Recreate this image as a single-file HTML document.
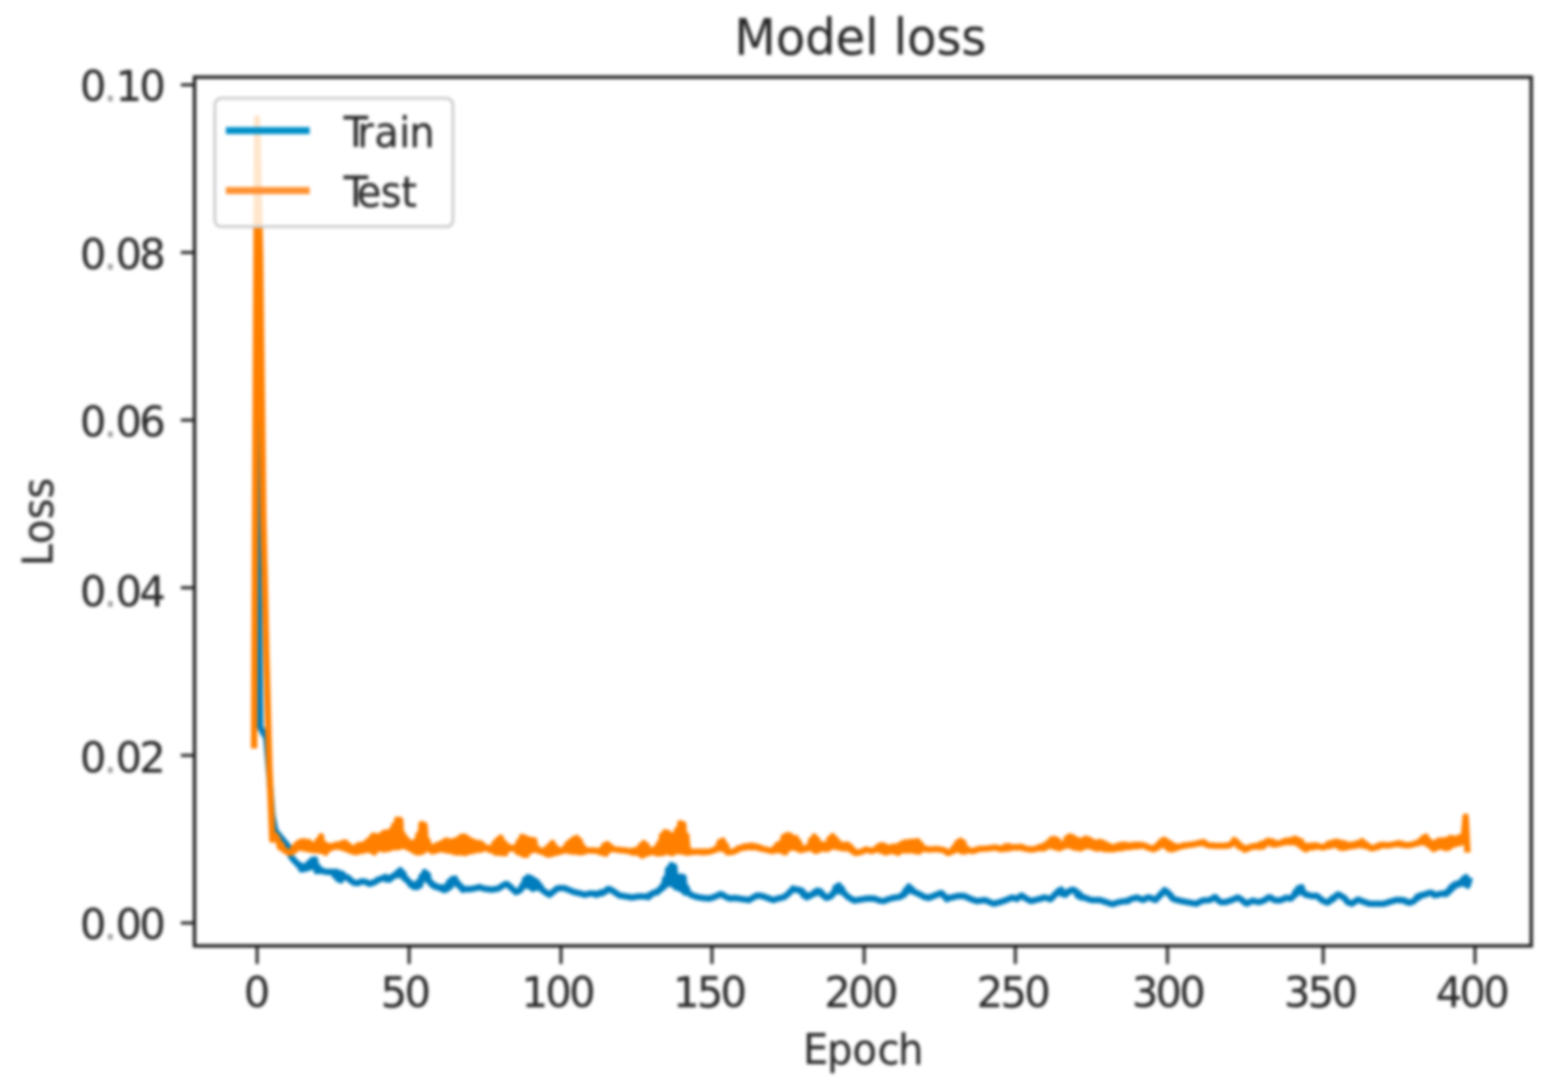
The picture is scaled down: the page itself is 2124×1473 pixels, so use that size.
<!DOCTYPE html>
<html lang="en"><head><meta charset="utf-8"><title>Model loss</title>
<style>html,body{margin:0;padding:0;background:#fff;overflow:hidden}svg{display:block}text{font-family:"DejaVu Sans","Liberation Sans",sans-serif;fill:#282828;stroke:#282828;stroke-width:0.25;font-kerning:none}</style></head><body>
<svg width="2124" height="1473" viewBox="0 0 2124 1473">
<defs><filter id="b" x="0" y="0" width="2124" height="1473" filterUnits="userSpaceOnUse" color-interpolation-filters="sRGB"><feGaussianBlur stdDeviation="2.2"/></filter>
<filter id="c" x="0" y="0" width="2124" height="1473" filterUnits="userSpaceOnUse" color-interpolation-filters="sRGB"><feGaussianBlur stdDeviation="2.2"/></filter>
<clipPath id="ax"><rect x="263.5" y="104.6" width="1810.7" height="1177.2"/></clipPath></defs>
<rect width="2124" height="1473" fill="#fff"/>
<g filter="url(#c)"><g clip-path="url(#ax)" fill="none" stroke-linejoin="round" stroke-linecap="square">
<polyline stroke="#007dbd" stroke-width="8.6" points="347.2,570.0 348.3,625.0 352.4,985.0 356.6,993.0 360.7,1000.0 364.8,1050.0 368.9,1105.0 373.1,1126.0 377.2,1131.0 381.3,1136.0 385.4,1141.0 389.6,1146.0 393.7,1160.0 397.8,1165.4 399.9,1167.4 401.9,1169.3 404.0,1172.0 406.1,1172.0 408.1,1178.3 410.2,1174.3 412.3,1177.8 414.3,1173.4 416.4,1176.6 418.4,1169.3 420.5,1175.3 422.6,1165.4 424.6,1172.3 426.7,1164.6 428.8,1180.5 430.8,1174.5 432.9,1180.3 434.9,1179.0 437.0,1180.5 439.1,1180.7 441.1,1181.3 443.2,1181.5 445.3,1181.8 447.3,1181.4 449.4,1181.8 451.4,1181.5 453.5,1186.7 455.6,1181.3 457.6,1191.1 459.7,1183.0 461.8,1193.1 463.8,1184.2 465.9,1189.0 467.9,1187.8 470.0,1189.6 472.1,1189.6 474.1,1192.5 476.2,1193.6 478.3,1195.8 480.3,1196.1 482.4,1196.8 484.4,1196.7 486.5,1195.9 488.6,1194.7 490.6,1194.4 492.7,1194.7 494.8,1194.9 496.8,1195.8 498.9,1196.8 500.9,1197.8 503.0,1197.0 505.1,1196.0 507.1,1195.7 509.2,1194.0 511.3,1193.0 513.3,1191.5 515.4,1191.1 517.4,1190.2 519.5,1190.3 521.6,1188.2 523.6,1191.9 525.7,1189.6 527.8,1192.0 529.8,1188.8 531.9,1188.5 533.9,1186.1 536.0,1186.5 538.1,1182.7 540.1,1185.5 542.2,1179.2 544.3,1187.0 546.3,1183.4 548.4,1190.7 550.4,1190.5 552.5,1194.2 554.6,1195.1 556.6,1199.6 558.7,1197.7 560.8,1201.9 562.8,1201.1 564.9,1202.1 566.9,1194.9 569.0,1200.0 571.1,1187.5 573.1,1192.1 575.2,1181.7 577.3,1190.5 579.3,1184.9 581.4,1195.3 583.4,1195.7 585.5,1199.4 587.6,1198.8 589.6,1201.8 591.7,1201.4 593.8,1202.8 595.8,1202.2 597.9,1204.6 599.9,1202.8 602.0,1206.3 604.1,1201.3 606.1,1204.5 608.2,1195.2 610.3,1201.4 612.3,1191.2 614.4,1195.9 616.4,1190.5 618.5,1197.5 620.6,1197.1 622.6,1201.3 624.7,1201.4 626.8,1205.9 628.8,1204.9 630.9,1204.9 632.9,1204.9 635.0,1204.9 637.1,1204.9 639.1,1204.5 641.2,1204.1 643.3,1203.6 645.3,1203.2 647.4,1202.7 649.4,1202.1 651.5,1202.7 653.6,1203.5 655.6,1204.2 657.7,1204.5 659.8,1204.8 661.8,1205.1 663.9,1205.4 665.9,1205.5 668.0,1205.2 670.1,1204.9 672.1,1204.6 674.2,1204.3 676.2,1203.4 678.3,1202.0 680.4,1200.6 682.4,1199.2 684.5,1198.5 686.6,1197.9 688.6,1199.7 690.7,1201.4 692.7,1203.1 694.8,1205.2 696.9,1207.0 698.9,1209.0 701.0,1208.2 703.1,1207.2 705.1,1205.9 707.2,1200.5 709.2,1201.3 711.3,1191.5 713.4,1200.2 715.4,1188.6 717.5,1201.6 719.6,1190.2 721.6,1204.5 723.7,1192.7 725.7,1203.2 727.8,1195.5 729.9,1202.9 731.9,1200.9 734.0,1205.5 736.1,1206.9 738.1,1208.6 740.2,1209.8 742.2,1211.3 744.3,1212.5 746.4,1210.9 748.4,1209.1 750.5,1207.5 752.6,1205.8 754.6,1204.3 756.7,1203.5 758.7,1203.5 760.8,1203.5 762.9,1203.5 764.9,1203.6 767.0,1204.6 769.1,1205.4 771.1,1206.3 773.2,1207.1 775.2,1207.9 777.3,1208.9 779.4,1209.3 781.4,1209.7 783.5,1210.2 785.6,1210.6 787.6,1211.2 789.7,1211.8 791.7,1212.5 793.8,1212.2 795.9,1211.6 797.9,1211.0 800.0,1210.6 802.1,1210.9 804.1,1211.5 806.2,1211.0 808.2,1212.6 810.3,1210.8 812.4,1211.3 814.4,1209.2 816.5,1210.3 818.6,1208.4 820.6,1207.8 822.7,1205.1 824.7,1204.5 826.8,1205.4 828.9,1206.7 830.9,1207.8 833.0,1209.3 835.1,1210.7 837.1,1212.1 839.2,1213.4 841.2,1213.7 843.3,1214.1 845.4,1214.4 847.4,1214.8 849.5,1215.1 851.6,1215.4 853.6,1215.8 855.7,1216.2 857.7,1215.9 859.8,1215.6 861.9,1215.2 863.9,1214.8 866.0,1214.8 868.1,1214.8 870.1,1214.8 872.2,1214.8 874.2,1215.1 876.3,1214.6 878.4,1215.8 880.4,1212.4 882.5,1212.2 884.6,1210.1 886.6,1210.2 888.7,1208.5 890.7,1209.0 892.8,1206.0 894.9,1205.4 896.9,1201.2 899.0,1202.4 901.1,1190.7 903.1,1198.7 905.2,1177.5 907.2,1197.3 909.3,1172.4 911.4,1199.0 913.4,1174.3 915.5,1202.4 917.6,1188.5 919.6,1203.8 921.7,1187.7 923.7,1206.0 925.8,1188.6 927.9,1209.6 929.9,1202.7 932.0,1209.8 934.0,1210.8 936.1,1212.7 938.2,1213.5 940.2,1214.2 942.3,1214.9 944.4,1215.5 946.4,1215.9 948.5,1216.2 950.5,1216.6 952.6,1216.9 954.7,1217.1 956.7,1217.2 958.8,1217.4 960.9,1217.6 962.9,1217.0 965.0,1216.3 967.0,1215.6 969.1,1214.8 971.2,1214.0 973.2,1212.9 975.3,1211.8 977.4,1211.9 979.4,1213.0 981.5,1214.5 983.5,1215.4 985.6,1216.4 987.7,1217.5 989.7,1217.4 991.8,1217.3 993.9,1217.1 995.9,1216.9 998.0,1217.2 1000.0,1217.5 1002.1,1217.8 1004.2,1218.2 1006.2,1218.5 1008.3,1218.8 1010.4,1219.1 1012.4,1219.4 1014.5,1219.7 1016.5,1218.6 1018.6,1217.3 1020.7,1216.1 1022.7,1215.0 1024.8,1214.0 1026.9,1213.4 1028.9,1213.7 1031.0,1214.0 1033.0,1214.5 1035.1,1215.2 1037.2,1215.9 1039.2,1216.7 1041.3,1217.3 1043.4,1218.2 1045.4,1219.0 1047.5,1219.7 1049.5,1219.0 1051.6,1218.4 1053.7,1217.7 1055.7,1217.2 1057.8,1216.7 1059.9,1216.2 1061.9,1215.6 1064.0,1214.4 1066.0,1212.6 1068.1,1211.1 1070.2,1208.4 1072.2,1207.0 1074.3,1203.9 1076.4,1205.6 1078.4,1205.2 1080.5,1206.1 1082.5,1205.5 1084.6,1208.4 1086.7,1207.3 1088.7,1213.6 1090.8,1212.1 1092.9,1216.1 1094.9,1213.3 1097.0,1214.2 1099.0,1212.4 1101.1,1212.1 1103.2,1209.0 1105.2,1210.4 1107.3,1206.7 1109.4,1208.2 1111.4,1207.9 1113.5,1212.5 1115.5,1212.4 1117.6,1215.5 1119.7,1216.6 1121.7,1216.0 1123.8,1215.0 1125.9,1214.4 1127.9,1210.7 1130.0,1209.9 1132.0,1202.6 1134.1,1207.4 1136.2,1199.7 1138.2,1208.1 1140.3,1203.8 1142.4,1209.9 1144.4,1211.1 1146.5,1213.5 1148.5,1215.2 1150.6,1216.7 1152.7,1217.8 1154.7,1219.1 1156.8,1220.3 1158.9,1220.2 1160.9,1219.8 1163.0,1219.5 1165.0,1219.1 1167.1,1218.8 1169.2,1218.5 1171.2,1218.1 1173.3,1217.8 1175.4,1217.6 1177.4,1217.6 1179.5,1217.6 1181.5,1217.6 1183.6,1217.6 1185.7,1218.2 1187.7,1219.0 1189.8,1219.8 1191.9,1220.4 1193.9,1220.8 1196.0,1221.0 1198.0,1220.7 1200.1,1219.9 1202.2,1219.0 1204.2,1218.3 1206.3,1217.7 1208.3,1217.2 1210.4,1216.7 1212.5,1216.2 1214.5,1216.0 1216.6,1215.8 1218.7,1215.4 1220.7,1214.7 1222.8,1212.0 1224.8,1212.4 1226.9,1206.0 1229.0,1208.4 1231.0,1201.2 1233.1,1206.4 1235.2,1204.8 1237.2,1208.5 1239.3,1208.7 1241.3,1209.9 1243.4,1210.9 1245.5,1211.9 1247.5,1212.9 1249.6,1214.0 1251.7,1215.2 1253.7,1216.0 1255.8,1215.9 1257.8,1216.9 1259.9,1216.1 1262.0,1215.3 1264.0,1214.5 1266.1,1213.5 1268.2,1212.8 1270.2,1211.9 1272.3,1211.0 1274.3,1210.1 1276.4,1211.0 1278.5,1214.1 1280.5,1215.5 1282.6,1218.6 1284.7,1216.6 1286.7,1216.8 1288.8,1216.3 1290.8,1215.8 1292.9,1215.3 1295.0,1214.8 1297.0,1214.2 1299.1,1214.1 1301.2,1214.1 1303.2,1214.1 1305.3,1214.1 1307.3,1214.6 1309.4,1215.6 1311.5,1216.7 1313.5,1217.7 1315.6,1218.4 1317.7,1219.3 1319.7,1220.0 1321.8,1220.7 1323.8,1221.1 1325.9,1220.8 1328.0,1220.5 1330.0,1220.3 1332.1,1220.0 1334.2,1219.7 1336.2,1220.5 1338.3,1221.4 1340.3,1222.3 1342.4,1223.2 1344.5,1224.1 1346.5,1224.6 1348.6,1224.0 1350.7,1223.5 1352.7,1222.9 1354.8,1222.5 1356.8,1221.7 1358.9,1221.0 1361.0,1220.3 1363.0,1219.7 1365.1,1218.7 1367.2,1217.9 1369.2,1217.0 1371.3,1216.2 1373.3,1217.0 1375.4,1217.5 1377.5,1218.3 1379.5,1216.5 1381.6,1215.0 1383.7,1213.5 1385.7,1214.7 1387.8,1216.2 1389.8,1217.6 1391.9,1218.7 1394.0,1219.8 1396.0,1220.9 1398.1,1220.8 1400.2,1220.3 1402.2,1219.7 1404.3,1219.1 1406.3,1218.7 1408.4,1218.1 1410.5,1217.5 1412.5,1216.9 1414.6,1216.2 1416.7,1216.6 1418.7,1217.1 1420.8,1217.6 1422.8,1218.6 1424.9,1216.6 1427.0,1214.7 1429.0,1212.0 1431.1,1211.1 1433.2,1207.8 1435.2,1209.0 1437.3,1205.3 1439.3,1211.7 1441.4,1209.7 1443.5,1212.6 1445.5,1208.7 1447.6,1208.7 1449.7,1206.6 1451.7,1207.0 1453.8,1205.7 1455.8,1207.3 1457.9,1207.9 1460.0,1214.0 1462.0,1211.0 1464.1,1216.1 1466.1,1215.1 1468.2,1216.3 1470.3,1216.9 1472.3,1217.6 1474.4,1218.3 1476.5,1219.0 1478.5,1219.7 1480.6,1219.7 1482.6,1219.7 1484.7,1219.7 1486.8,1219.7 1488.8,1219.7 1490.9,1219.9 1493.0,1220.7 1495.0,1221.4 1497.1,1222.1 1499.1,1222.7 1501.2,1223.5 1503.3,1224.2 1505.3,1224.9 1507.4,1225.3 1509.5,1224.5 1511.5,1223.8 1513.6,1223.1 1515.6,1222.5 1517.7,1222.1 1519.8,1221.8 1521.8,1221.5 1523.9,1221.1 1526.0,1221.1 1528.0,1221.1 1530.1,1219.0 1532.1,1218.4 1534.2,1217.8 1536.3,1217.2 1538.3,1216.6 1540.4,1216.3 1542.5,1217.3 1544.5,1218.1 1546.6,1219.0 1548.6,1219.5 1550.7,1218.4 1552.8,1216.9 1554.8,1216.3 1556.9,1216.0 1559.0,1217.1 1561.0,1217.8 1563.1,1219.0 1565.1,1219.6 1567.2,1217.8 1569.3,1214.8 1571.3,1213.9 1573.4,1210.2 1575.5,1209.4 1577.5,1206.1 1579.6,1208.4 1581.6,1208.7 1583.7,1212.5 1585.8,1213.0 1587.8,1217.0 1589.9,1218.2 1592.0,1219.0 1594.0,1219.5 1596.1,1220.0 1598.1,1220.5 1600.2,1221.1 1602.3,1221.4 1604.3,1221.8 1606.4,1222.2 1608.5,1222.6 1610.5,1223.0 1612.6,1223.3 1614.6,1223.7 1616.7,1224.0 1618.8,1224.4 1620.8,1224.6 1622.9,1223.4 1625.0,1222.4 1627.0,1221.4 1629.1,1220.4 1631.1,1220.3 1633.2,1220.1 1635.3,1220.0 1637.3,1219.8 1639.4,1219.5 1641.5,1218.1 1643.5,1216.9 1645.6,1215.6 1647.6,1217.0 1649.7,1219.7 1651.8,1221.2 1653.8,1222.6 1655.9,1222.5 1658.0,1222.5 1660.0,1222.5 1662.1,1221.8 1664.1,1221.1 1666.2,1220.5 1668.3,1219.7 1670.3,1218.9 1672.4,1218.1 1674.5,1217.2 1676.5,1216.2 1678.6,1217.2 1680.6,1218.5 1682.7,1219.9 1684.8,1221.7 1686.8,1223.5 1688.9,1224.5 1691.0,1223.3 1693.0,1222.3 1695.1,1221.2 1697.1,1220.5 1699.2,1221.1 1701.3,1221.6 1703.3,1222.1 1705.4,1222.5 1707.5,1221.8 1709.5,1221.2 1711.6,1220.5 1713.6,1219.4 1715.7,1218.0 1717.8,1216.4 1719.8,1215.9 1721.9,1216.7 1724.0,1218.4 1726.0,1219.5 1728.1,1219.9 1730.1,1220.1 1732.2,1220.3 1734.3,1220.2 1736.3,1219.2 1738.4,1218.3 1740.4,1217.5 1742.5,1216.5 1744.6,1217.2 1746.6,1217.4 1748.7,1217.6 1750.8,1215.2 1752.8,1214.1 1754.9,1208.4 1756.9,1210.8 1759.0,1203.5 1761.1,1205.8 1763.1,1202.2 1765.2,1210.1 1767.3,1210.2 1769.3,1212.7 1771.4,1212.5 1773.4,1213.3 1775.5,1214.0 1777.6,1214.1 1779.6,1214.1 1781.7,1214.1 1783.8,1214.1 1785.8,1215.5 1787.9,1217.4 1789.9,1219.2 1792.0,1220.6 1794.1,1221.5 1796.1,1222.4 1798.2,1223.2 1800.3,1221.7 1802.3,1220.2 1804.4,1217.5 1806.4,1218.3 1808.5,1215.0 1810.6,1213.5 1812.6,1212.0 1814.7,1213.1 1816.8,1214.1 1818.8,1215.6 1820.9,1216.8 1822.9,1218.9 1825.0,1222.0 1827.1,1223.1 1829.1,1223.9 1831.2,1224.6 1833.3,1223.2 1835.3,1221.8 1837.4,1220.4 1839.4,1219.0 1841.5,1219.8 1843.6,1220.6 1845.6,1221.6 1847.7,1222.2 1849.8,1222.9 1851.8,1223.6 1853.9,1224.3 1855.9,1224.7 1858.0,1224.7 1860.1,1224.7 1862.1,1224.7 1864.2,1224.7 1866.3,1224.7 1868.3,1224.7 1870.4,1224.7 1872.4,1224.7 1874.5,1224.7 1876.6,1224.1 1878.6,1223.4 1880.7,1222.7 1882.8,1221.9 1884.8,1221.5 1886.9,1220.9 1888.9,1220.4 1891.0,1219.6 1893.1,1219.8 1895.1,1219.5 1897.2,1220.1 1899.3,1219.6 1901.3,1220.4 1903.4,1220.5 1905.4,1222.5 1907.5,1222.6 1909.6,1223.5 1911.6,1222.2 1913.7,1222.0 1915.8,1220.5 1917.8,1218.5 1919.9,1215.1 1921.9,1216.1 1924.0,1213.3 1926.1,1213.6 1928.1,1212.2 1930.2,1212.4 1932.3,1211.2 1934.3,1210.8 1936.4,1209.7 1938.4,1210.2 1940.5,1210.4 1942.6,1213.0 1944.6,1212.9 1946.7,1212.8 1948.8,1211.8 1950.8,1211.4 1952.9,1211.0 1954.9,1211.2 1957.0,1210.3 1959.1,1211.6 1961.1,1207.8 1963.2,1208.1 1965.3,1202.5 1967.3,1204.1 1969.4,1199.0 1971.4,1200.2 1973.5,1197.4 1975.6,1198.6 1977.6,1196.2 1979.7,1197.5 1981.8,1191.3 1983.8,1197.5 1985.9,1188.6 1987.9,1200.3 1990.0,1193.3"/>
<polyline stroke="#ff8000" stroke-width="8.6" points="344.2,1010.0 348.3,160.0 352.4,345.0 356.6,700.0 360.7,883.0 364.8,1038.0 368.9,1138.0 373.1,1132.0 377.2,1139.6 379.3,1148.0 381.3,1144.8 383.4,1150.6 385.4,1152.0 387.5,1153.5 389.6,1154.6 391.6,1155.4 393.7,1156.0 395.8,1154.2 397.8,1148.2 399.9,1152.1 401.9,1144.0 404.0,1148.4 406.1,1141.1 408.1,1149.1 410.2,1140.0 412.2,1149.9 414.3,1140.4 416.4,1150.7 418.4,1141.0 420.5,1151.5 422.6,1143.9 424.6,1152.3 426.7,1144.7 428.7,1152.3 430.8,1138.8 432.9,1152.8 434.9,1133.3 437.0,1153.4 439.0,1143.2 441.1,1155.6 443.2,1145.8 445.2,1150.8 447.3,1146.7 449.4,1148.9 451.4,1146.0 453.5,1147.5 455.5,1144.6 457.6,1147.4 459.7,1144.1 461.7,1148.1 463.8,1142.4 465.8,1149.6 467.9,1141.6 470.0,1150.9 472.0,1145.4 474.1,1152.7 476.2,1148.4 478.2,1154.2 480.3,1149.9 482.3,1154.9 484.4,1145.6 486.5,1153.7 488.5,1144.9 490.6,1153.1 492.6,1144.4 494.7,1152.4 496.8,1141.1 498.8,1151.3 500.9,1137.5 503.0,1152.9 505.0,1132.6 507.1,1155.1 509.1,1132.8 511.2,1150.5 513.3,1134.8 515.3,1150.2 517.4,1130.6 519.4,1151.1 521.5,1128.0 523.6,1150.6 525.6,1128.7 527.7,1149.9 529.8,1125.2 531.8,1148.1 533.9,1118.5 535.9,1148.3 538.0,1110.8 540.1,1147.9 542.1,1111.4 544.2,1146.3 546.2,1131.3 548.3,1146.9 550.4,1136.6 552.4,1148.6 554.5,1141.2 556.6,1150.7 558.6,1146.0 560.7,1153.2 562.7,1140.0 564.8,1155.1 566.9,1131.0 568.9,1155.0 571.0,1116.6 573.0,1153.4 575.1,1118.2 577.2,1150.3 579.2,1139.1 581.3,1151.3 583.4,1147.4 585.4,1153.8 587.5,1147.6 589.5,1153.1 591.6,1145.3 593.7,1151.8 595.7,1143.7 597.8,1150.7 599.8,1141.7 601.9,1151.7 604.0,1138.9 606.0,1152.6 608.1,1140.1 610.2,1153.1 612.2,1140.2 614.3,1154.3 616.3,1139.1 618.4,1155.4 620.5,1137.4 622.5,1154.9 624.6,1134.1 626.6,1155.7 628.7,1133.5 630.8,1155.7 632.8,1135.9 634.9,1154.1 637.0,1139.1 639.0,1153.5 641.1,1140.2 643.1,1152.5 645.2,1142.6 647.3,1151.9 649.3,1142.1 651.4,1151.5 653.4,1144.3 655.5,1149.7 657.6,1148.3 659.6,1149.9 661.7,1149.0 663.8,1152.1 665.8,1149.7 667.9,1153.1 669.9,1142.6 672.0,1155.7 674.1,1138.2 676.1,1155.5 678.2,1135.0 680.2,1156.2 682.3,1141.4 684.4,1156.4 686.4,1145.6 688.5,1150.8 690.6,1148.2 692.6,1150.0 694.7,1149.2 696.7,1150.1 698.8,1147.2 700.9,1154.5 702.9,1140.5 705.0,1156.0 707.0,1134.0 709.1,1158.3 711.2,1135.3 713.2,1158.5 715.3,1137.4 717.4,1153.6 719.4,1138.3 721.5,1151.9 723.5,1138.6 725.6,1151.3 727.7,1149.5 729.7,1153.2 731.8,1152.4 733.8,1154.1 735.9,1154.5 738.0,1156.3 740.0,1150.0 742.1,1158.2 744.2,1146.3 746.2,1157.7 748.3,1142.2 750.3,1156.3 752.4,1147.8 754.5,1155.6 756.5,1151.8 758.6,1154.2 760.6,1152.5 762.7,1153.2 764.8,1149.2 766.8,1152.4 768.9,1143.4 771.0,1153.5 773.0,1140.3 775.1,1154.1 777.1,1137.1 779.2,1154.2 781.3,1135.4 783.3,1154.6 785.4,1139.4 787.4,1155.2 789.5,1147.2 791.6,1154.3 793.6,1151.9 795.7,1152.4 797.7,1152.5 799.8,1152.6 801.9,1152.6 803.9,1152.6 806.0,1152.6 808.1,1152.9 810.1,1153.3 812.2,1154.6 814.2,1151.5 816.3,1155.8 818.4,1145.7 820.4,1157.0 822.5,1143.7 824.5,1152.8 826.6,1146.8 828.7,1150.5 830.7,1150.5 832.8,1150.9 834.9,1151.2 836.9,1151.6 839.0,1151.9 841.0,1152.1 843.1,1152.3 845.2,1152.4 847.2,1152.6 849.3,1152.9 851.3,1153.3 853.4,1154.1 855.5,1153.2 857.5,1155.6 859.6,1152.1 861.7,1155.0 863.7,1151.1 865.8,1156.6 867.8,1146.2 869.9,1159.6 872.0,1142.4 874.0,1157.4 876.1,1145.7 878.1,1156.1 880.2,1151.9 882.3,1155.0 884.3,1151.7 886.4,1155.1 888.5,1149.4 890.5,1156.6 892.6,1143.1 894.6,1156.4 896.7,1132.3 898.8,1155.7 900.8,1127.8 902.9,1153.8 904.9,1128.7 907.0,1155.5 909.1,1136.0 911.1,1156.2 913.2,1131.1 915.3,1153.7 917.3,1124.6 919.4,1153.8 921.4,1115.6 923.5,1154.0 925.6,1117.0 927.6,1155.1 929.7,1132.2 931.7,1155.7 933.8,1152.1 935.9,1154.8 937.9,1154.3 940.0,1154.5 942.1,1154.1 944.1,1154.1 946.2,1154.1 948.2,1154.5 950.3,1154.0 952.4,1155.0 954.4,1153.8 956.5,1154.6 958.5,1154.1 960.6,1154.2 962.7,1153.4 964.7,1152.9 966.8,1152.1 968.9,1151.7 970.9,1148.9 973.0,1149.8 975.0,1141.0 977.1,1150.4 979.2,1139.0 981.2,1150.9 983.3,1145.4 985.3,1154.9 987.4,1154.5 989.5,1154.8 991.5,1154.1 993.6,1154.1 995.7,1152.9 997.7,1152.3 999.8,1149.9 1001.8,1150.3 1003.9,1148.8 1006.0,1149.0 1008.0,1147.1 1010.1,1148.5 1012.1,1146.6 1014.2,1147.9 1016.3,1146.2 1018.3,1148.2 1020.4,1146.3 1022.5,1148.0 1024.5,1147.2 1026.6,1149.0 1028.6,1148.2 1030.7,1150.1 1032.8,1150.1 1034.8,1150.6 1036.9,1151.1 1038.9,1151.6 1041.0,1152.1 1043.1,1152.7 1045.1,1153.0 1047.2,1153.4 1049.3,1149.2 1051.3,1152.0 1053.4,1144.4 1055.4,1152.3 1057.5,1142.5 1059.6,1153.5 1061.6,1134.2 1063.7,1155.2 1065.7,1131.7 1067.8,1150.3 1069.9,1131.9 1071.9,1148.6 1074.0,1135.4 1076.1,1148.8 1078.1,1135.5 1080.2,1150.2 1082.2,1141.0 1084.3,1152.2 1086.4,1148.4 1088.4,1151.2 1090.5,1150.4 1092.5,1150.4 1094.6,1147.2 1096.7,1148.6 1098.7,1138.6 1100.8,1151.1 1102.9,1133.6 1104.9,1153.3 1107.0,1137.7 1109.0,1152.2 1111.1,1143.8 1113.2,1149.6 1115.2,1144.0 1117.3,1150.6 1119.3,1145.2 1121.4,1150.4 1123.5,1136.9 1125.5,1148.0 1127.6,1133.1 1129.7,1146.7 1131.7,1136.8 1133.8,1148.1 1135.8,1141.4 1137.9,1148.7 1140.0,1145.3 1142.0,1149.6 1144.1,1144.6 1146.1,1149.6 1148.2,1144.4 1150.3,1150.5 1152.3,1147.6 1154.4,1153.4 1156.5,1152.5 1158.5,1155.9 1160.6,1155.7 1162.6,1155.2 1164.7,1154.7 1166.8,1154.4 1168.8,1153.2 1170.9,1152.3 1172.9,1151.1 1175.0,1151.7 1177.1,1152.2 1179.1,1152.8 1181.2,1153.3 1183.3,1152.4 1185.3,1151.2 1187.4,1151.3 1189.4,1147.1 1191.5,1152.2 1193.6,1145.3 1195.6,1153.6 1197.7,1145.9 1199.7,1155.3 1201.8,1148.3 1203.9,1154.0 1205.9,1148.5 1208.0,1153.2 1210.1,1147.1 1212.1,1153.9 1214.2,1147.2 1216.2,1155.8 1218.3,1145.4 1220.4,1153.1 1222.4,1142.8 1224.5,1152.4 1226.5,1141.4 1228.6,1152.7 1230.7,1141.3 1232.7,1152.2 1234.8,1140.6 1236.9,1152.8 1238.9,1140.6 1241.0,1153.7 1243.0,1139.7 1245.1,1154.1 1247.2,1144.0 1249.2,1150.9 1251.3,1149.2 1253.3,1150.8 1255.4,1150.5 1257.5,1151.2 1259.5,1151.1 1261.6,1151.0 1263.7,1150.9 1265.7,1150.7 1267.8,1150.6 1269.8,1150.5 1271.9,1150.9 1274.0,1151.2 1276.0,1151.6 1278.1,1151.9 1280.1,1153.2 1282.2,1154.4 1284.3,1155.9 1286.3,1155.2 1288.4,1153.3 1290.5,1153.6 1292.5,1148.1 1294.6,1152.0 1296.6,1142.2 1298.7,1151.1 1300.8,1139.2 1302.8,1153.8 1304.9,1141.8 1306.9,1154.1 1309.0,1149.4 1311.1,1152.2 1313.1,1152.3 1315.2,1152.9 1317.3,1153.3 1319.3,1152.8 1321.4,1152.1 1323.4,1151.4 1325.5,1150.6 1327.6,1150.4 1329.6,1150.3 1331.7,1150.2 1333.7,1150.0 1335.8,1149.9 1337.9,1149.7 1339.9,1149.5 1342.0,1149.2 1344.1,1149.0 1346.1,1148.6 1348.2,1148.5 1350.2,1148.8 1352.3,1149.9 1354.4,1149.9 1356.4,1150.9 1358.5,1148.9 1360.5,1150.4 1362.6,1146.7 1364.7,1150.1 1366.7,1146.5 1368.8,1149.2 1370.9,1148.1 1372.9,1148.4 1375.0,1148.0 1377.0,1148.7 1379.1,1147.8 1381.2,1148.4 1383.2,1147.4 1385.3,1149.1 1387.3,1149.3 1389.4,1150.0 1391.5,1150.5 1393.5,1150.7 1395.6,1150.9 1397.7,1151.1 1399.7,1151.0 1401.8,1150.6 1403.8,1149.6 1405.9,1149.6 1408.0,1148.0 1410.0,1149.8 1412.1,1146.7 1414.1,1149.7 1416.2,1144.8 1418.3,1147.8 1420.3,1141.4 1422.4,1145.4 1424.5,1137.2 1426.5,1147.4 1428.6,1136.8 1430.6,1148.6 1432.7,1138.7 1434.8,1149.8 1436.8,1143.7 1438.9,1147.8 1440.9,1143.0 1443.0,1146.3 1445.1,1135.7 1447.1,1145.8 1449.2,1133.2 1451.3,1146.8 1453.3,1134.7 1455.4,1148.7 1457.4,1137.4 1459.5,1149.0 1461.6,1138.8 1463.6,1150.0 1465.7,1139.3 1467.7,1148.1 1469.8,1136.5 1471.9,1146.5 1473.9,1137.0 1476.0,1146.9 1478.1,1139.3 1480.1,1148.0 1482.2,1141.5 1484.2,1149.8 1486.3,1141.5 1488.4,1149.9 1490.4,1140.8 1492.5,1149.5 1494.5,1142.4 1496.6,1150.9 1498.7,1144.3 1500.7,1151.0 1502.8,1146.2 1504.9,1151.0 1506.9,1148.5 1509.0,1150.9 1511.0,1147.1 1513.1,1149.7 1515.2,1145.5 1517.2,1149.6 1519.3,1144.8 1521.3,1149.1 1523.4,1144.4 1525.5,1147.9 1527.5,1145.2 1529.6,1148.2 1531.7,1145.6 1533.7,1147.2 1535.8,1145.1 1537.8,1146.9 1539.9,1144.8 1542.0,1146.7 1544.0,1144.8 1546.1,1145.9 1548.1,1145.1 1550.2,1146.4 1552.3,1146.8 1554.3,1148.5 1556.4,1148.4 1558.5,1149.7 1560.5,1150.2 1562.6,1150.9 1564.6,1147.9 1566.7,1149.3 1568.8,1144.3 1570.8,1146.5 1572.9,1140.1 1574.9,1144.8 1577.0,1137.8 1579.1,1146.8 1581.1,1140.5 1583.2,1150.3 1585.2,1143.0 1587.3,1151.0 1589.4,1145.7 1591.4,1150.0 1593.5,1147.1 1595.6,1148.3 1597.6,1147.2 1599.7,1147.1 1601.7,1146.1 1603.8,1146.2 1605.9,1145.3 1607.9,1145.4 1610.0,1145.0 1612.0,1144.9 1614.1,1144.5 1616.2,1144.4 1618.2,1143.9 1620.3,1143.6 1622.4,1142.8 1624.4,1142.9 1626.5,1141.6 1628.5,1142.4 1630.6,1141.2 1632.7,1143.9 1634.7,1144.1 1636.8,1145.5 1638.8,1145.7 1640.9,1145.8 1643.0,1145.9 1645.0,1146.0 1647.1,1146.2 1649.2,1146.3 1651.2,1146.3 1653.3,1146.3 1655.3,1146.3 1657.4,1146.2 1659.5,1146.1 1661.5,1145.9 1663.6,1145.7 1665.6,1145.6 1667.7,1143.4 1669.8,1143.3 1671.8,1138.2 1673.9,1142.7 1676.0,1141.5 1678.0,1147.2 1680.1,1145.3 1682.1,1148.9 1684.2,1148.5 1686.3,1151.6 1688.3,1149.5 1690.4,1149.9 1692.4,1148.0 1694.5,1148.1 1696.6,1146.9 1698.6,1147.2 1700.7,1146.3 1702.8,1147.3 1704.8,1145.1 1706.9,1147.6 1708.9,1143.3 1711.0,1147.1 1713.1,1141.9 1715.1,1143.7 1717.2,1139.4 1719.2,1142.0 1721.3,1139.8 1723.4,1144.2 1725.4,1141.1 1727.5,1144.6 1729.6,1142.8 1731.6,1143.7 1733.7,1142.7 1735.7,1142.8 1737.8,1140.7 1739.9,1141.6 1741.9,1139.3 1744.0,1141.0 1746.0,1138.8 1748.1,1141.5 1750.2,1137.9 1752.2,1141.3 1754.3,1136.4 1756.4,1142.3 1758.4,1138.4 1760.5,1145.1 1762.5,1140.1 1764.6,1148.7 1766.7,1145.7 1768.7,1151.1 1770.8,1146.1 1772.8,1149.0 1774.9,1146.0 1777.0,1148.5 1779.0,1145.6 1781.1,1147.6 1783.2,1145.6 1785.2,1147.2 1787.3,1146.9 1789.3,1147.7 1791.4,1148.0 1793.5,1148.2 1795.5,1146.3 1797.6,1146.8 1799.6,1143.1 1801.7,1146.5 1803.8,1142.2 1805.8,1145.0 1807.9,1140.8 1810.0,1144.9 1812.0,1140.6 1814.1,1147.9 1816.1,1142.0 1818.2,1149.1 1820.3,1142.6 1822.3,1148.7 1824.4,1144.3 1826.4,1147.6 1828.5,1144.5 1830.6,1146.9 1832.6,1144.8 1834.7,1146.5 1836.8,1143.1 1838.8,1145.4 1840.9,1142.3 1842.9,1145.3 1845.0,1139.8 1847.1,1146.2 1849.1,1143.2 1851.2,1146.8 1853.2,1145.9 1855.3,1148.4 1857.4,1149.5 1859.4,1149.4 1861.5,1148.6 1863.6,1148.8 1865.6,1146.5 1867.7,1147.3 1869.7,1144.9 1871.8,1145.6 1873.9,1144.8 1875.9,1145.6 1878.0,1145.2 1880.0,1145.6 1882.1,1145.2 1884.2,1145.0 1886.2,1144.5 1888.3,1144.3 1890.4,1143.8 1892.4,1143.7 1894.5,1142.7 1896.5,1144.3 1898.6,1143.3 1900.7,1145.1 1902.7,1144.8 1904.8,1145.6 1906.8,1145.3 1908.9,1145.1 1911.0,1144.9 1913.0,1144.4 1915.1,1143.8 1917.2,1143.2 1919.2,1142.4 1921.3,1142.6 1923.3,1139.6 1925.4,1141.2 1927.5,1135.7 1929.5,1142.0 1931.6,1133.7 1933.6,1144.0 1935.7,1139.2 1937.8,1147.1 1939.8,1142.2 1941.9,1150.7 1944.0,1142.3 1946.0,1148.9 1948.1,1139.3 1950.1,1147.1 1952.2,1138.8 1954.3,1147.9 1956.3,1138.6 1958.4,1149.5 1960.4,1138.1 1962.5,1148.7 1964.6,1135.4 1966.6,1145.9 1968.7,1136.0 1970.8,1144.0 1972.8,1137.2 1974.9,1143.0 1976.9,1134.4 1979.0,1142.2 1982.6,1138.0 1985.3,1106.5 1987.6,1151.0"/>
</g></g>
<g filter="url(#b)">
<g stroke="#1e1e1e" stroke-width="4.0" fill="none">
<line x1="348.3" y1="1281.8" x2="348.3" y2="1306.3"/>
<line x1="554.2" y1="1281.8" x2="554.2" y2="1306.3"/>
<line x1="759.9" y1="1281.8" x2="759.9" y2="1306.3"/>
<line x1="964.4" y1="1281.8" x2="964.4" y2="1306.3"/>
<line x1="1170.6" y1="1281.8" x2="1170.6" y2="1306.3"/>
<line x1="1375.4" y1="1281.8" x2="1375.4" y2="1306.3"/>
<line x1="1581.4" y1="1281.8" x2="1581.4" y2="1306.3"/>
<line x1="1792.4" y1="1281.8" x2="1792.4" y2="1306.3"/>
<line x1="1998.0" y1="1281.8" x2="1998.0" y2="1306.3"/>
<line x1="245.0" y1="115.0" x2="263.5" y2="115.0"/>
<line x1="245.0" y1="342.15" x2="263.5" y2="342.15"/>
<line x1="245.0" y1="569.3" x2="263.5" y2="569.3"/>
<line x1="245.0" y1="796.45" x2="263.5" y2="796.45"/>
<line x1="245.0" y1="1023.6" x2="263.5" y2="1023.6"/>
<line x1="245.0" y1="1250.75" x2="263.5" y2="1250.75"/>
</g>
<rect x="263.5" y="104.6" width="1810.6999999999998" height="1177.2" fill="none" stroke="#1e1e1e" stroke-width="4.6"/>
<text font-size="54.16" transform="translate(330.98 1365.00) scale(1.04 1.035)" x="-0.66">0</text>
<text font-size="54.16" transform="translate(516.38 1365.00) scale(1.04 1.035)" x="-0.66 30.30">50</text>
<text font-size="54.16" transform="translate(707.19 1365.00) scale(1.04 1.035)" x="-0.66 30.30 61.26">100</text>
<text font-size="54.16" transform="translate(912.39 1365.00) scale(1.04 1.035)" x="-0.66 30.30 61.26">150</text>
<text font-size="54.16" transform="translate(1117.49 1365.00) scale(1.04 1.035)" x="-0.66 30.30 61.26">200</text>
<text font-size="54.16" transform="translate(1323.69 1365.00) scale(1.04 1.035)" x="-0.66 30.30 61.26">250</text>
<text font-size="54.16" transform="translate(1533.81 1365.00) scale(1.04 1.035)" x="-0.66 30.30 61.26">300</text>
<text font-size="54.16" transform="translate(1740.01 1365.00) scale(1.04 1.035)" x="-0.66 30.30 61.26">350</text>
<text font-size="54.16" transform="translate(1945.55 1365.00) scale(1.04 1.035)" x="-0.66 30.30 61.26">400</text>
<text font-size="54.16" transform="translate(108.93 137.20) scale(1.04 1.035)" x="-0.66 30.30 45.68 76.65">0.10</text>
<rect x="143.9" y="126.7" width="11.6" height="14.0" fill="#fff" fill-opacity="0.55"/>
<text font-size="54.16" transform="translate(108.93 365.10) scale(1.04 1.035)" x="-0.66 30.30 45.68 76.65">0.08</text>
<rect x="143.9" y="354.6" width="11.6" height="14.0" fill="#fff" fill-opacity="0.55"/>
<text font-size="54.16" transform="translate(108.93 592.10) scale(1.04 1.035)" x="-0.66 30.30 45.68 76.65">0.06</text>
<rect x="143.9" y="581.6" width="11.6" height="14.0" fill="#fff" fill-opacity="0.55"/>
<text font-size="54.16" transform="translate(108.93 821.50) scale(1.04 1.035)" x="-0.66 30.30 45.68 76.65">0.04</text>
<rect x="143.9" y="811.0" width="11.6" height="14.0" fill="#fff" fill-opacity="0.55"/>
<text font-size="54.16" transform="translate(108.93 1047.00) scale(1.04 1.035)" x="-0.66 30.30 45.68 76.65">0.02</text>
<rect x="143.9" y="1036.5" width="11.6" height="14.0" fill="#fff" fill-opacity="0.55"/>
<text font-size="54.16" transform="translate(108.93 1273.00) scale(1.04 1.035)" x="-0.66 30.30 45.68 76.65">0.00</text>
<rect x="143.9" y="1262.5" width="11.6" height="14.0" fill="#fff" fill-opacity="0.55"/>
<text font-size="54.16" transform="translate(1087.68 1441.50) scale(1.0 1.05)" x="0.00 32.50 67.00 101.00 128.80">Epoch</text>
<text font-size="54.16" transform="translate(71.00 706.00) rotate(-90) scale(1 1.05)" x="-61.19 -31.19 2.31 30.31">Loss</text>
<text fill="#141414" stroke="#141414" stroke-width="0.5" font-size="65" transform="translate(994.81 74.00) scale(1.0 1.03)" x="0.00 56.08 95.85 137.11 177.10 195.16 215.82 233.88 273.65 307.51">Model loss</text>
<rect x="291" y="133.2" width="322.5" height="174.0" rx="9" ry="9" fill="#fff" fill-opacity="0.8" stroke="#cccccc" stroke-width="3.8"/>
<line x1="306" y1="177" x2="419.5" y2="177" stroke="#008fc8" stroke-width="9.5"/>
<line x1="306" y1="258.2" x2="419.5" y2="258.2" stroke="#ff9030" stroke-width="9.5"/>
<text font-size="54.16" transform="translate(465.46 198.50) scale(1.0 1.035)" x="0.00 18.50 41.60 75.20 89.00">Train</text>
<text font-size="54.16" transform="translate(465.46 280.00) scale(1.0 1.035)" x="0.00 17.90 50.20 78.00">Test</text>
</g></svg></body></html>
